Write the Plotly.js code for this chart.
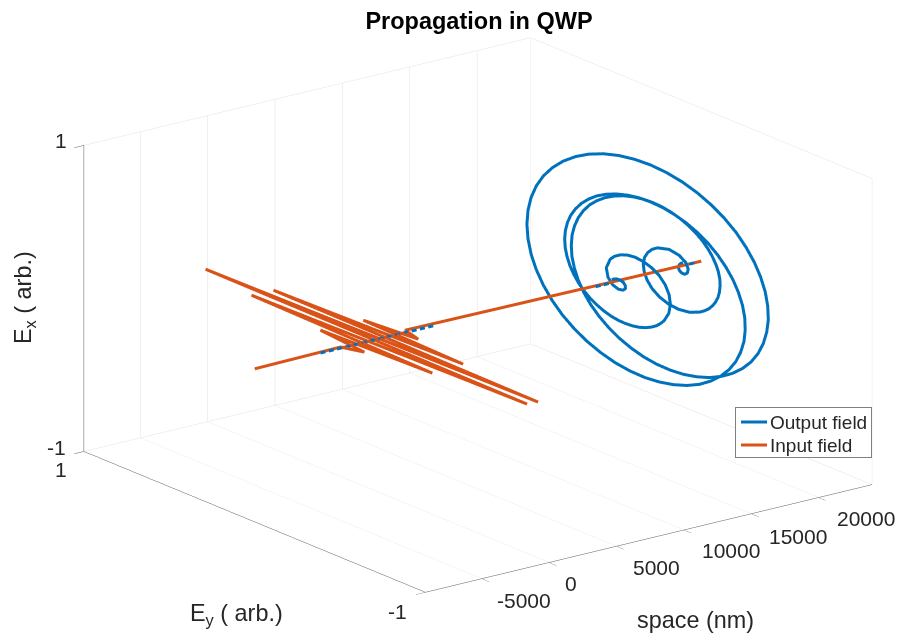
<!DOCTYPE html>
<html><head><meta charset="utf-8">
<script src="https://cdn.plot.ly/plotly-3.0.1.min.js"></script>
<style>html,body{margin:0;padding:0;background:#fff}#c{width:901px;height:637px}</style></head>
<body><div id="c"></div>
<script>
const inX=[-9187,-2700,-2150,-1710,-1350,-970,-430,-170,315,625,1115,1425,1845,2250,23966,null,-2700,2250];
const inY=[0,0.01,-0.087,0.205,-0.422,0.667,-0.904,0.999,-0.91,0.664,-0.408,0.201,-0.087,0.021,0,null,0,0];
const inZ=[0,0,0,0,0,0,0,0,0,0,0,0,0,0,0,null,0,0];
const outX=[17460,17533,17607,17680,17753,17827,17900,17973,18047,18120,18193,18267,18340,18377,18413,18450,18487,18523,18560,18597,18633,18670,18707,18743,
18780,18798,18817,18835,18853,18872,18890,18908,18927,18945,18963,18982,19000,19018,19037,19055,19073,19092,19110,19128,19147,19165,19183,19202,19220,19238,19257,19275,19293,19312,19330,19348,19367,19385,19403,19422,19440,19458,19477,19495,19513,19532,19550,19568,19587,19605,19623,19642,19660,19678,19697,19715,19733,19752,19770,19788,19807,19825,19843,19862,19880,19898,19917,19935,19953,19972,19990,20008,20027,20045,20063,20082,20100,20118,20137,20155,20173,20192,20210,20228,20247,20265,20283,20302,20320,20338,20357,20375,20393,20412,20430,20448,20467,20485,20503,20522,20540,20558,20577,20595,20613,20632,20650,20668,20687,20705,20723,20742,20760,20778,20797,20815,20833,20852,20870,20888,20907,20925,20943,20962,20980,20998,21017,21035,21053,21072,21090,21108,21127,21145,21163,21182,21200,21218,21237,21255,21273,21292,21310,21328,21347,21365,21383,21402,21420,
21457,21493,21530,21567,21603,21640,21677,21713,21750,21787,21823,21860,21933,22007,22080,22153,22227,22300,22373,22447,22520,22593,22667,22740];
const outY=[0.011,0.005,-0.006,-0.02,-0.033,-0.039,-0.035,-0.015,0.018,0.058,0.092,0.108,0.091,0.069,0.038,0,-0.044,-0.09,-0.136,-0.178,-0.211,-0.231,-0.236,-0.224,
-0.193,-0.17,-0.144,-0.112,-0.079,-0.04,0,0.044,0.087,0.133,0.176,0.22,0.26,0.299,0.333,0.363,0.387,0.406,0.418,0.423,0.42,0.409,0.391,0.364,0.331,0.289,0.243,0.188,0.13,0.066,0,-0.07,-0.138,-0.208,-0.275,-0.34,-0.4,-0.455,-0.502,-0.543,-0.574,-0.597,-0.609,-0.61,-0.601,-0.58,-0.55,-0.508,-0.457,-0.396,-0.329,-0.253,-0.173,-0.087,0,0.09,0.178,0.265,0.347,0.425,0.496,0.559,0.612,0.655,0.687,0.707,0.715,0.71,0.693,0.664,0.623,0.571,0.509,0.438,0.36,0.275,0.186,0.094,0,-0.093,-0.184,-0.271,-0.353,-0.428,-0.496,-0.553,-0.601,-0.637,-0.663,-0.676,-0.678,-0.667,-0.645,-0.613,-0.57,-0.518,-0.457,-0.39,-0.317,-0.241,-0.161,-0.081,0,0.078,0.154,0.224,0.29,0.348,0.4,0.442,0.476,0.5,0.516,0.521,0.518,0.505,0.484,0.456,0.42,0.379,0.331,0.281,0.226,0.171,0.113,0.057,0,-0.052,-0.104,-0.149,-0.192,-0.228,-0.26,-0.284,-0.304,-0.317,-0.324,-0.324,-0.319,-0.309,-0.293,-0.274,-0.25,-0.223,-0.193,
-0.129,-0.063,0,0.056,0.103,0.136,0.156,0.164,0.159,0.143,0.12,0.091,0.029,-0.025,-0.058,-0.067,-0.056,-0.035,-0.011,0.009,0.02,0.022,0.018,0.011];
const outZ=[0.011,0.018,0.022,0.02,0.009,-0.011,-0.035,-0.056,-0.067,-0.058,-0.025,0.029,0.091,0.12,0.143,0.159,0.164,0.156,0.136,0.103,0.056,0,-0.063,-0.129,
-0.193,-0.223,-0.25,-0.274,-0.293,-0.309,-0.319,-0.324,-0.324,-0.317,-0.304,-0.284,-0.26,-0.228,-0.192,-0.149,-0.104,-0.052,0,0.057,0.113,0.171,0.226,0.281,0.331,0.379,0.42,0.456,0.484,0.505,0.518,0.521,0.516,0.5,0.476,0.442,0.4,0.348,0.29,0.224,0.154,0.078,0,-0.081,-0.161,-0.241,-0.317,-0.39,-0.457,-0.518,-0.57,-0.613,-0.645,-0.667,-0.678,-0.676,-0.663,-0.637,-0.601,-0.553,-0.496,-0.428,-0.353,-0.271,-0.184,-0.093,0,0.094,0.186,0.275,0.36,0.438,0.509,0.571,0.623,0.664,0.693,0.71,0.715,0.707,0.687,0.655,0.612,0.559,0.496,0.425,0.347,0.265,0.178,0.09,0,-0.087,-0.173,-0.253,-0.329,-0.396,-0.457,-0.508,-0.55,-0.58,-0.601,-0.61,-0.609,-0.597,-0.574,-0.543,-0.502,-0.455,-0.4,-0.34,-0.275,-0.208,-0.138,-0.07,0,0.066,0.13,0.188,0.243,0.289,0.331,0.364,0.391,0.409,0.42,0.423,0.418,0.406,0.387,0.363,0.333,0.299,0.26,0.22,0.176,0.133,0.087,0.044,0,-0.04,-0.079,-0.112,-0.144,-0.17,-0.193,
-0.224,-0.236,-0.231,-0.211,-0.178,-0.136,-0.09,-0.044,0,0.038,0.069,0.091,0.108,0.092,0.058,0.018,-0.015,-0.035,-0.039,-0.033,-0.02,-0.006,0.005,0.011];
const fringeStart=[-4340,-3725,-3110,-2495,-1880,-1265,-650,-35,580,1195,1810,2425,3040,3655,16080,16675,23040];
const fringeEnd=[-3970,-3355,-2740,-2125,-1510,-895,-280,335,950,1565,2180,2795,3410,4025,16455,17050,23410];
const spaceTicks=[-5000,0,5000,10000,15000,20000];
const spaceLabels=['-5000','0','5000','10000','15000','20000'];
const spaceRange=[-9187,23966];
const ampOut=0.99;
const bx=[],by=[],bz=[];
fringeStart.forEach((s,i)=>{bx.push(s,fringeEnd[i],null);by.push(-0.003,-0.003,null);bz.push(0.002,0.002,null);});
outX.forEach((v,i)=>{bx.push(v);by.push(outY[i]*ampOut);bz.push(outZ[i]*ampOut);});
const txt='#262626', font='Arial, "Liberation Sans", sans-serif';
const blue='#0072BD', orange='#D95319';
const shifts=[[42,-22],[22,-21],[40,-21],[47,-21],[47,-23],[47,-21]];
const sceneAnn=spaceTicks.map((t,i)=>({x:t,y:-1,z:-1,text:spaceLabels[i],showarrow:false,xshift:shifts[i][0],yshift:shifts[i][1],font:{family:font,size:21,color:txt}}));
const mk=(x,y,z,t,sx,sy)=>({x,y,z,text:t,showarrow:false,xshift:sx,yshift:sy,font:{family:font,size:21,color:txt}});
sceneAnn.push(mk(spaceRange[0],1,1,'1',-23,5),mk(spaceRange[0],1,-1,'-1',-27,4),mk(spaceRange[0],1,-1,'1',-23,-18),mk(spaceRange[0],-1,-1,'-1',-28,-19));
const axBase={showbackground:false,showgrid:true,gridcolor:'#e2e2e2',gridwidth:1,zeroline:false,showticklabels:false,title:{text:''},showspikes:false,showline:true,linecolor:'#5c5c5c',linewidth:1,ticks:'outside',ticklen:12,tickcolor:'#5c5c5c',tickwidth:1};
const d=1.9;
const layout={width:901,height:637,margin:{l:0,r:0,t:0,b:0},paper_bgcolor:'#fff',
 title:{text:'<b>Propagation in QWP</b>',font:{family:font,size:23.5,color:'#000'},x:479/901,xanchor:'center',y:1-21/637,yanchor:'middle'},
 scene:{domain:{x:[55/901,1],y:[7/637,1]},aspectmode:'manual',aspectratio:{x:1.785,y:1.785,z:1.0239},
  camera:{projection:{type:'orthographic'},eye:{x:-0.5764*d,y:-0.7539*d,z:0.3153*d},up:{x:0,y:0,z:1},center:{x:0,y:0,z:0}},
  xaxis:Object.assign({},axBase,{range:spaceRange,tickmode:'array',tickvals:spaceTicks}),
  yaxis:Object.assign({},axBase,{range:[-1,1],tickmode:'array',tickvals:[-1,1]}),
  zaxis:Object.assign({},axBase,{range:[-1,1],tickmode:'array',tickvals:[-1,1]}),
  annotations:sceneAnn},
 legend:{x:735/901,y:1-407/637,xanchor:'left',yanchor:'top',bgcolor:'#fff',bordercolor:'#808080',borderwidth:1,font:{family:font,size:19,color:txt},itemwidth:30,tracegroupgap:0},
 annotations:[
  {xref:'paper',yref:'paper',x:695/901,y:1-620/637,xanchor:'center',yanchor:'middle',text:'space (nm)',showarrow:false,font:{family:font,size:23.4,color:txt}},
  {xref:'paper',yref:'paper',x:236.5/901,y:1-614/637,xanchor:'center',yanchor:'middle',text:'E<sub>y</sub> ( arb.)',showarrow:false,font:{family:font,size:23.4,color:txt}},
  {xref:'paper',yref:'paper',x:24/901,y:1-298/637,xanchor:'center',yanchor:'middle',text:'E<sub>x</sub> ( arb.)',textangle:-90,showarrow:false,font:{family:font,size:23.4,color:txt}}
 ]};
Plotly.newPlot('c',[
 {type:'scatter3d',mode:'lines',name:'Output field',x:bx,y:by,z:bz,connectgaps:false,line:{color:blue,width:6}},
 {type:'scatter3d',mode:'lines',name:'Input field',x:inX,y:inY,z:inZ,connectgaps:false,line:{color:orange,width:6}}
],layout,{displayModeBar:false}).then(()=>{
 const g=document.querySelector('.legend');
 if(!g) return;
 const bg=g.querySelector('.bg'); bg.setAttribute('height',50); bg.setAttribute('width',136);
 const rows=[15,38];
 g.querySelectorAll('.traces').forEach((t,i)=>{
  t.setAttribute('transform','translate(0,'+rows[i]+')');
  t.querySelectorAll('.legendtext').forEach(e=>e.setAttribute('x',35));
  t.querySelectorAll('path.js-line').forEach(e=>{e.setAttribute('d','M6,0h26');e.style.strokeWidth='3px';});
 });
});
</script></body></html>
